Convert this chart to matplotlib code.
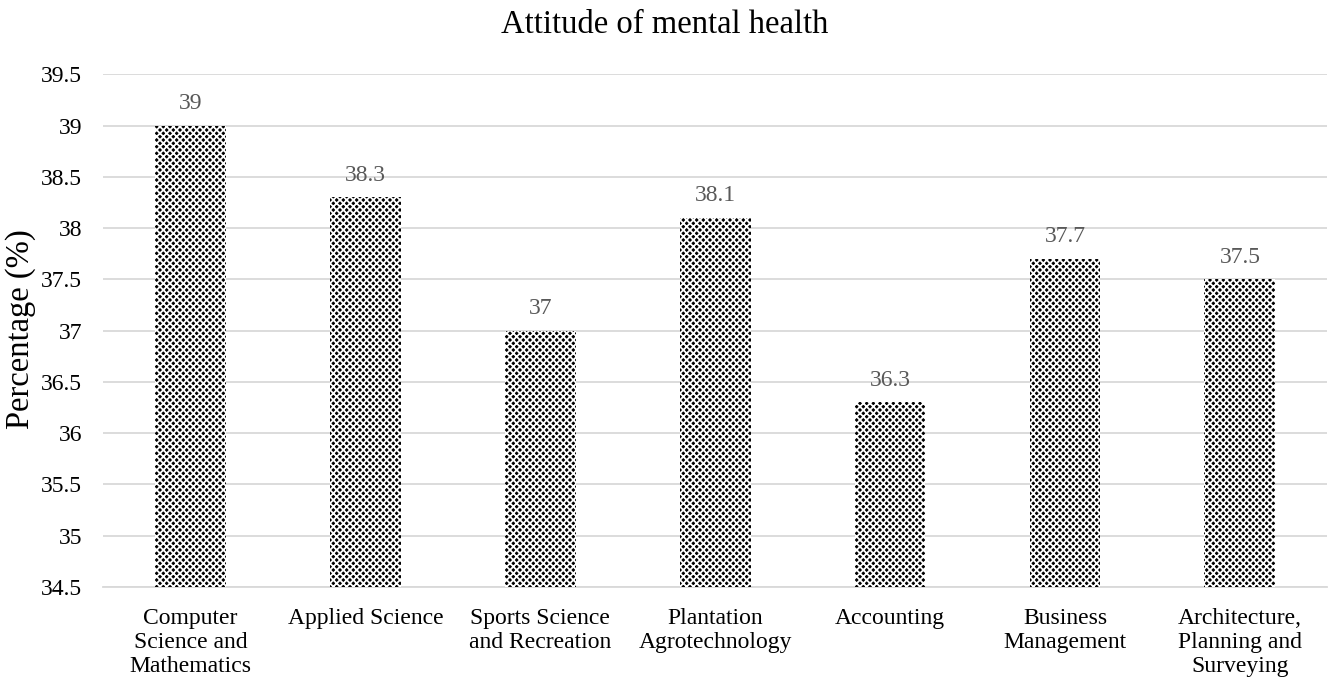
import matplotlib.pyplot as plt

categories = ["Computer\nScience and\nMathematics", "Applied Science", "Sports Science\nand Recreation",
              "Plantation\nAgrotechnology", "Accounting", "Business\nManagement",
              "Architecture,\nPlanning and\nSurveying"]
values = [39, 38.3, 37, 38.1, 36.3, 37.7, 37.5]
labels = ["39", "38.3", "37", "38.1", "36.3", "37.7", "37.5"]

plt.rcParams['font.family'] = ['Liberation Serif', 'DejaVu Serif']
plt.rcParams['hatch.linewidth'] = 1.3

fig = plt.figure(figsize=(13.3, 6.81), dpi=100)
ax = fig.add_axes([0.0774, 0.138, 0.9206, 0.753])

x = range(len(categories))
bottom = 34.5
bars = ax.bar(x, [v - bottom for v in values], bottom=bottom, width=0.405,
              color='black', edgecolor='white', hatch='xxxxx', linewidth=0, zorder=3)
for xi, v, lab in zip(x, values, labels):
    ax.annotate(lab, (xi, v), xytext=(0, 12), textcoords='offset points',
                ha='center', va='baseline', fontsize=17, color='#595959')

ax.set_xlim(-0.5, len(categories) - 0.5)
ax.set_ylim(34.5, 39.5)
ax.set_yticks([34.5 + 0.5 * i for i in range(11)])
ax.set_yticklabels(["34.5", "35", "35.5", "36", "36.5", "37", "37.5", "38", "38.5", "39", "39.5"])
ax.yaxis.grid(True, color='#d9d9d9', linewidth=1.3, zorder=0)
ax.set_axisbelow(True)
for s in ['top', 'right', 'left']:
    ax.spines[s].set_visible(False)
ax.spines['bottom'].set_color('#d9d9d9')
ax.spines['bottom'].set_linewidth(1.3)
ax.set_xticks(list(x))
ax.set_xticklabels(categories, fontsize=17, linespacing=1.2)
ax.tick_params(axis='x', length=0, labelsize=17, pad=15)
ax.tick_params(axis='y', length=0, labelsize=17, pad=15)

fig.text(0.0155, 0.517, "Percentage (%)", rotation=90, ha='center', va='center', fontsize=23.5)
fig.text(0.5, 0.951, "Attitude of mental health", ha='center', va='baseline', fontsize=23.5)

fig.savefig("out.png", dpi=100)
